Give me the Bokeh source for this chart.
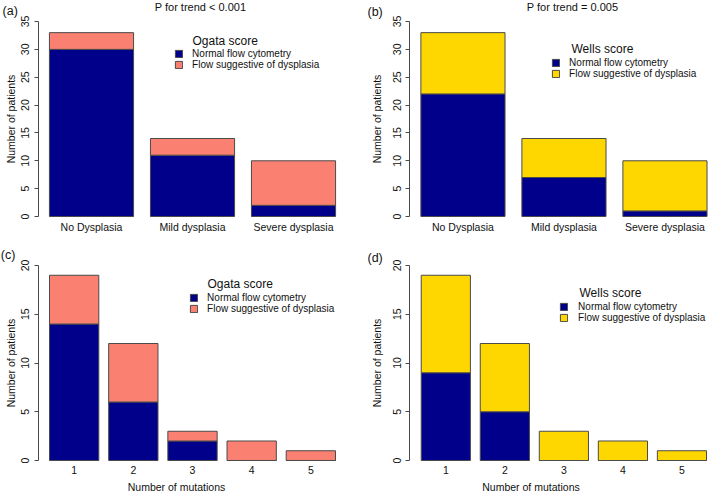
from bokeh.plotting import figure
from bokeh.models import (ColumnDataSource, Range1d, FixedTicker, SingleIntervalTicker,
                          Legend, LegendItem, Label)
from bokeh.layouts import column, row
from bokeh.embed import file_html
from bokeh.resources import INLINE

# ---------------- data ----------------
dysplasia_categories = ["No Dysplasia", "Mild dysplasia", "Severe dysplasia"]
ogata_normal = [30, 11, 2]
ogata_suggestive = [3, 3, 8]
wells_normal = [22, 7, 1]
wells_suggestive = [11, 7, 9]

mutation_categories = ["1", "2", "3", "4", "5"]
ogata_mut_normal = [14, 6, 2, 0, 0]
ogata_mut_suggestive = [5, 6, 1, 2, 1]
wells_mut_normal = [9, 5, 0, 0, 0]
wells_mut_suggestive = [10, 7, 3, 2, 1]

series_labels = ["Normal flow cytometry", "Flow suggestive of dysplasia"]

NAVY = "#00008B"
SALMON = "#FA8072"
GOLD = "#FFD700"
EDGE = "#4a4a4a"
TXT = "#111111"
FONT = "Liberation Sans"


def panel(cats, normal, suggestive, colour, width, height, xr, yr, ymax,
          yaxis_x, letter, letter_xy, title, title_xy, score, score_xy,
          legend_loc, standoff, xlabel=None, ylabel_standoff=2, xlabel_standoff=5):
    p = figure(width=width, height=height, output_backend="svg",
               toolbar_location=None, x_range=Range1d(*xr), y_range=Range1d(*yr),
               min_border=0)
    p.outline_line_color = None
    p.xgrid.grid_line_color = None
    p.ygrid.grid_line_color = None
    p.background_fill_color = "white"
    p.border_fill_color = "white"

    xs = list(range(len(cats)))
    src = ColumnDataSource(dict(x=xs, normal=normal, suggestive=suggestive))
    rs = p.vbar_stack(["normal", "suggestive"], x="x", width=0.833, source=src,
                      fill_color=[NAVY, colour], line_color=EDGE, line_width=1)

    # x axis: category names, no axis line, drawn at y = 0
    xa = p.xaxis[0]
    xa.fixed_location = 0
    xa.ticker = FixedTicker(ticks=xs)
    xa.major_label_overrides = {i: c for i, c in enumerate(cats)}
    xa.axis_line_color = None
    xa.major_tick_line_color = None
    xa.major_tick_out = 0
    xa.major_tick_in = 0
    xa.minor_tick_line_color = None
    xa.major_label_text_font = FONT
    xa.major_label_text_font_size = "10.5px"
    xa.major_label_text_color = TXT
    xa.major_label_standoff = xlabel_standoff
    if xlabel:
        xa.axis_label = xlabel
        xa.axis_label_text_font = FONT
        xa.axis_label_text_font_size = "10.5px"
        xa.axis_label_text_font_style = "normal"
        xa.axis_label_text_color = TXT
        xa.axis_label_standoff = 3

    # y axis, line limited to the tick span
    ya = p.yaxis[0]
    ya.fixed_location = yaxis_x
    ya.bounds = (0, ymax)
    ya.ticker = SingleIntervalTicker(interval=5)
    ya.axis_label = "Number of patients"
    ya.axis_label_text_font = FONT
    ya.axis_label_text_font_size = "10.5px"
    ya.axis_label_text_font_style = "normal"
    ya.axis_label_text_color = TXT
    ya.axis_label_standoff = ylabel_standoff
    ya.major_label_orientation = "vertical"
    ya.major_label_text_font = FONT
    ya.major_label_text_font_size = "10.5px"
    ya.major_label_text_color = TXT
    ya.major_label_standoff = 5
    ya.major_tick_out = 4
    ya.major_tick_in = 0
    ya.minor_tick_line_color = None
    ya.axis_line_color = EDGE
    ya.major_tick_line_color = EDGE

    # panel letter and title
    p.add_layout(Label(x=letter_xy[0], y=letter_xy[1], text=letter, text_font=FONT,
                       text_font_size="12.5px", text_align="left",
                       text_baseline="middle", text_color=TXT))
    if title:
        p.add_layout(Label(x=title_xy[0], y=title_xy[1], text=title, text_font=FONT,
                           text_font_size="11px", text_align="center",
                           text_baseline="middle", text_color=TXT))

    # legend with its title
    p.add_layout(Label(x=score_xy[0], y=score_xy[1], text=score, text_font=FONT,
                       text_font_size="12px", text_align="left",
                       text_baseline="middle", text_color=TXT))
    legend = Legend(items=[LegendItem(label=series_labels[0], renderers=[rs[0]]),
                           LegendItem(label=series_labels[1], renderers=[rs[1]])],
                    location=legend_loc, orientation="vertical", padding=0,
                    spacing=0, margin=0, glyph_width=9, glyph_height=9,
                    label_height=11, label_standoff=standoff,
                    label_text_font=FONT, label_text_font_size="10px",
                    label_text_color=TXT, background_fill_alpha=0,
                    border_line_color=None)
    p.add_layout(legend)
    return p


pa = panel(dysplasia_categories, ogata_normal, ogata_suggestive, SALMON,
           352, 238, (-0.901, 2.584), (-3.949, 38.77), 35, -0.5287,
           "(a)", (-0.881, 36.80), "P for trend < 0.001", (1.079, 37.69),
           "Ogata score", (1.0, 31.59), (174.1, 168.0), 9)

pb = panel(dysplasia_categories, wells_normal, wells_suggestive, GOLD,
           357, 238, (-1.0936, 2.441), (-3.949, 38.77), 35, -0.526,
           "(b)", (-0.945, 36.62), "P for trend = 0.005", (1.0847, 37.69),
           "Wells score", (1.0748, 30.15), (199.1, 159.0), 9, ylabel_standoff=7)

pc = panel(mutation_categories, ogata_mut_normal, ogata_mut_suggestive, SALMON,
           352, 257, (-1.2447, 4.704), (-3.59, 22.77), 20, -0.609,
           "(c)", (-1.24, 21.03), None, None,
           "Ogata score", (2.253, 18.15), (189.1, 181.0), 9,
           xlabel="Number of mutations", xlabel_standoff=6)

pd_ = panel(mutation_categories, wells_mut_normal, wells_mut_suggestive, GOLD,
            357, 257, (-1.5806, 4.467), (-3.59, 22.77), 20, -0.610,
            "(d)", (-1.3265, 20.82), None, None,
            "Wells score", (2.265, 17.13), (207.1, 172.5), 10,
            xlabel="Number of mutations", ylabel_standoff=7, xlabel_standoff=6)

layout = column(row(pa, pb), row(pc, pd_))

with open("out.html", "w") as f:
    f.write(file_html(layout, INLINE))
